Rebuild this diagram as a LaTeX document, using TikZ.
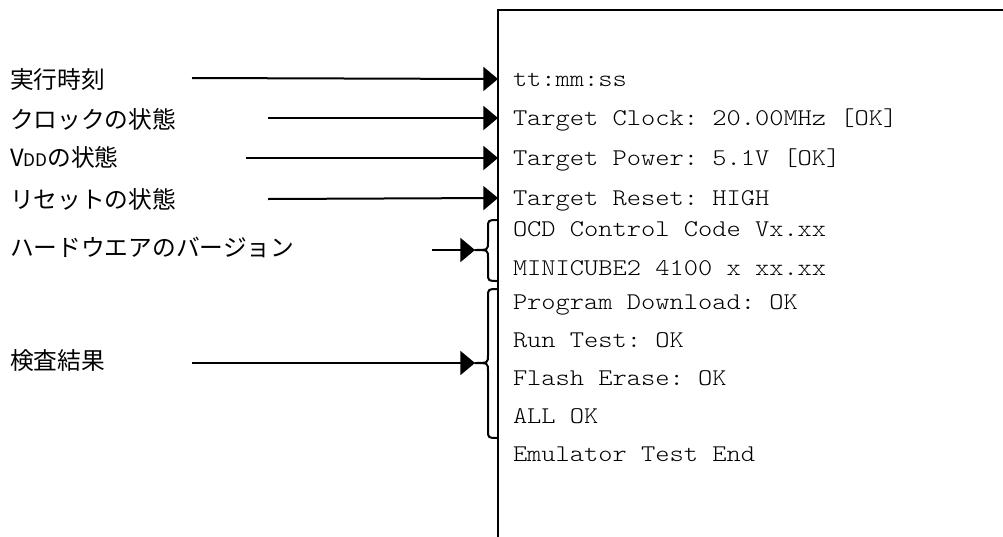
\documentclass[tikz,border=0pt]{standalone}
\usepackage{fontspec}
\newfontfamily\jpfont{Noto Sans CJK JP}
\newfontfamily\termfont[FakeStretch=1.13]{lmmonolt10-regular.otf}
\usetikzlibrary{arrows.meta}
\begin{document}
\begin{tikzpicture}[x=0.75pt,y=-0.75pt,
  lbl/.style={anchor=west,inner sep=0pt,outer sep=0pt,font=\jpfont\fontsize{17.8pt}{20pt}\selectfont},
  outline/.style={anchor=west,inner xsep=11.25pt,inner ysep=0pt,outer sep=0pt,
    text height=11pt,text depth=0pt,font=\termfont\fontsize{18pt}{20pt}\selectfont\frenchspacing},
  ptr/.style={line width=1.5pt,-{Triangle[length=11pt,width=18pt]}},
  brc/.style={line width=1.5pt,line join=round},
  frame/.style={line width=1.5pt}]
\useasboundingbox (0,0) rectangle (1003,536);
\fill[white] (0,0) rectangle (1003,536);

% monitor window (runs off the right and bottom edges)
\draw[frame] (1030,10) -- (498,10) -- (498,570);

% printed lines
\node[outline] (t1)  at (498,79)  {tt:mm:ss};
\node[outline] (t2)  at (498,118) {Target Clock: 20.00MHz [OK]};
\node[outline] (t3)  at (498,158) {Target Power: 5.1V [OK]};
\node[outline] (t4)  at (498,198) {Target Reset: HIGH};
\node[outline] (t5)  at (498,229) {OCD Control Code Vx.xx};
\node[outline] (t6)  at (498,268) {MINICUBE2 4100 x xx.xx};
\node[outline] (t7)  at (498,302) {Program Download: OK};
\node[outline] (t8)  at (498,340) {Run Test: OK};
\node[outline] (t9)  at (498,378) {Flash Erase: OK};
\node[outline] (t10) at (498,416) {ALL OK};
\node[outline] (t11) at (498,454) {Emulator Test End};

% captions
\node[lbl] (l1) at (10,80)  {実行時刻};
\node[lbl] (l2) at (10,119) {クロックの状態};
\node[lbl] (l3) at (10,157) {V{\fontsize{13pt}{14pt}\selectfont DD}の状態};
\node[lbl] (l4) at (10,199) {リセットの状態};
\node[lbl] (l5) at (10,247) {ハードウエアのバージョン};
\node[lbl] (l6) at (10,361) {検査結果};

% arrow tails
\coordinate (s1) at (192,78);
\coordinate (s2) at (268,118);
\coordinate (s3) at (246,158);
\coordinate (s4) at (268,199);
\coordinate (s5) at (432,250);
\coordinate (s6) at (192,363);

% brace tips
\coordinate (b1) at (475,250);
\coordinate (b2) at (475,363);

% braces grouping printed lines
\draw[brc] (498,220) .. controls (488,220) .. (488,228) -- (488,242)
  .. controls (488,250) .. (b1) .. controls (488,250) .. (488,258) -- (488,273)
  .. controls (488,281) .. (498,281);
\draw[brc] (498,289) .. controls (488,289) .. (488,297) -- (488,355)
  .. controls (488,363) .. (b2) .. controls (488,363) .. (488,371) -- (488,430)
  .. controls (488,438) .. (498,438);

% pointers
\draw[ptr] (s1) -- (t1.west);
\draw[ptr] (s2) -- (t2.west);
\draw[ptr] (s3) -- (t3.west);
\draw[ptr] (s4) -- (t4.west);
\draw[ptr] (s5) -- (b1);
\draw[ptr] (s6) -- (b2);
\end{tikzpicture}
\end{document}
